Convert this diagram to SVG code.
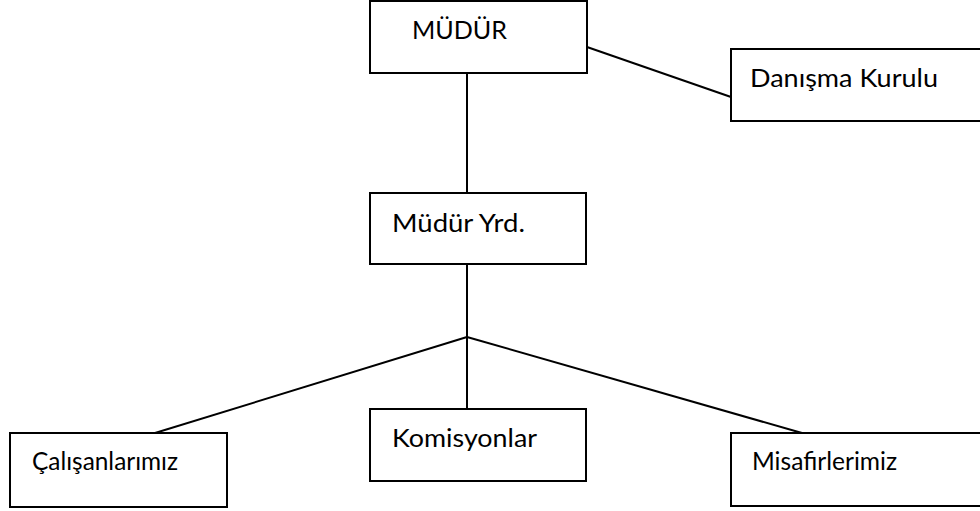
<svg xmlns="http://www.w3.org/2000/svg" width="980" height="511" viewBox="0 0 980 511">
<style>
.box{fill:#fff;stroke:#000;stroke-width:2}
.lbl{font-family:Lato,"Open Sans","Liberation Sans",sans-serif;font-size:25px;fill:#000}
.con{stroke:#000;stroke-width:2;fill:none}
</style>
<rect width="980" height="511" fill="#fff"/>
<g id="connectors">
<line class="con" x1="587" y1="47" x2="731" y2="97"/>
<line class="con" x1="467" y1="73" x2="467" y2="193"/>
<line class="con" x1="467" y1="264" x2="467" y2="409"/>
<line class="con" x1="467" y1="337" x2="155" y2="433"/>
<line class="con" x1="467" y1="337" x2="802" y2="433"/>
</g>
<g id="mudur">
<rect class="box" x="370" y="1" width="217" height="72"/>
<text class="lbl" x="412" y="39" textLength="95" lengthAdjust="spacingAndGlyphs">MÜDÜR</text>
</g>
<g id="danisma">
<rect class="box" x="731" y="49" width="260" height="72"/>
<text class="lbl" x="750" y="87" textLength="188" lengthAdjust="spacingAndGlyphs">Danışma Kurulu</text>
</g>
<g id="mudur-yrd">
<rect class="box" x="370" y="193" width="216" height="71"/>
<text class="lbl" x="392" y="232" textLength="133" lengthAdjust="spacingAndGlyphs">Müdür Yrd.</text>
</g>
<g id="calisanlar">
<rect class="box" x="10" y="433" width="217" height="74"/>
<text class="lbl" x="32" y="470" textLength="146" lengthAdjust="spacingAndGlyphs">Çalışanlarımız</text>
</g>
<g id="komisyonlar">
<rect class="box" x="370" y="409" width="216" height="72"/>
<text class="lbl" x="392" y="447" textLength="145" lengthAdjust="spacingAndGlyphs">Komisyonlar</text>
</g>
<g id="misafirler">
<rect class="box" x="731" y="433" width="260" height="73"/>
<text class="lbl" x="752" y="470" textLength="145" lengthAdjust="spacingAndGlyphs">Misafirlerimiz</text>
</g>
</svg>
